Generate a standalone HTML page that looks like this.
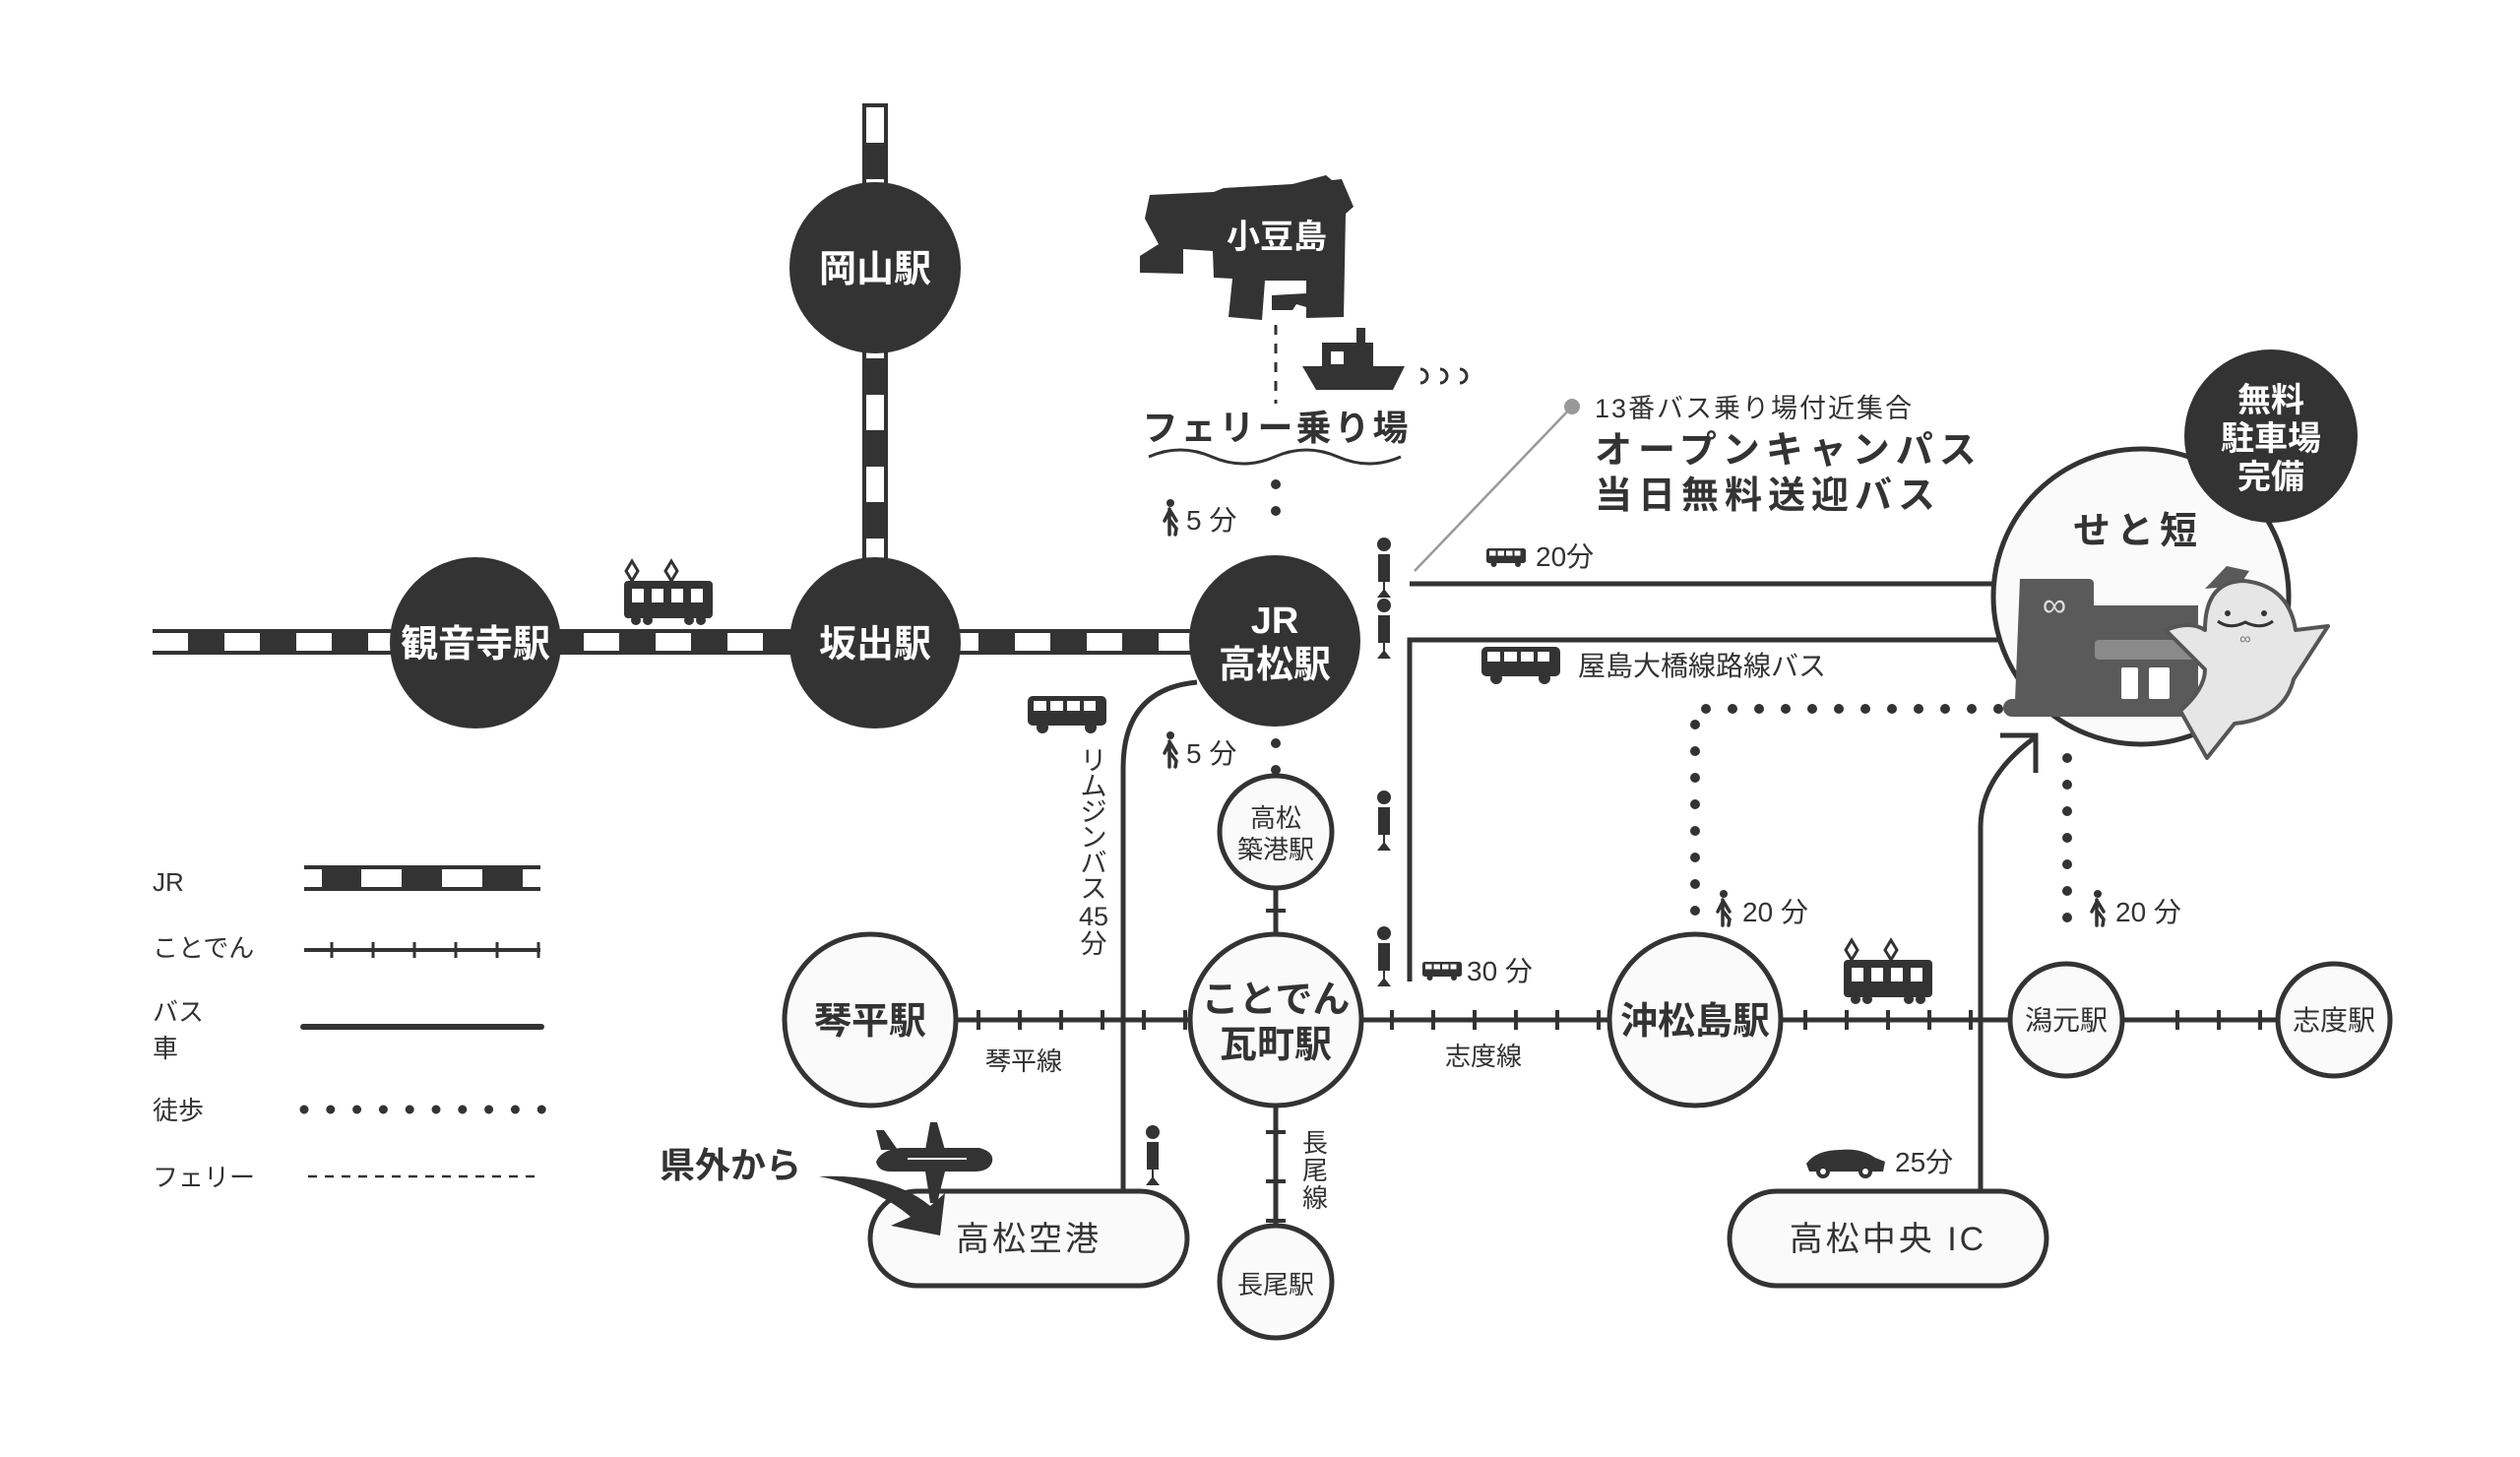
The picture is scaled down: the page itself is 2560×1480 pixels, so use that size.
<!DOCTYPE html>
<html><head><meta charset="utf-8"><style>
html,body{margin:0;padding:0;background:#fff;}
svg{display:block;font-family:"Liberation Sans","Noto Sans CJK JP",sans-serif;}
</style></head><body>
<svg width="2560" height="1480" viewBox="0 0 2560 1480" xmlns="http://www.w3.org/2000/svg">
<defs>
<g id="bus"><rect x="0" y="0" width="80" height="30" rx="5" fill="#333"/><rect x="6" y="5" width="13" height="10" fill="#fff"/><rect x="23" y="5" width="13" height="10" fill="#fff"/><rect x="40" y="5" width="13" height="10" fill="#fff"/><rect x="57" y="5" width="12" height="10" fill="#fff"/><circle cx="15" cy="32" r="6" fill="#333"/><circle cx="64" cy="32" r="6" fill="#333"/></g>
<g id="walk" fill="#333" stroke="#333"><circle cx="6" cy="4" r="4" stroke="none"/><path d="M5 10 L5 36 M5 12 L0 22 M6 12 L12 22 M6 22 L12 30 L11 36" stroke-width="3.5" fill="none" stroke-linecap="round"/></g>
<g id="stop"><circle cx="0" cy="0" r="7" fill="#333"/><rect x="-6" y="10" width="12" height="28" fill="#333"/><line x1="0" y1="38" x2="0" y2="46" stroke="#333" stroke-width="2"/><path d="M-7 54 L0 45 L7 54 Z" fill="#333"/></g>
<g id="train"><path d="M8 0 L2 10 L8 20 L14 10 Z M48 0 L42 10 L48 20 L54 10 Z" fill="none" stroke="#333" stroke-width="3"/><rect x="0" y="20" width="90" height="38" rx="4" fill="#333"/><rect x="8" y="28" width="12" height="14" fill="#fff"/><rect x="28" y="28" width="12" height="14" fill="#fff"/><rect x="48" y="28" width="12" height="14" fill="#fff"/><rect x="68" y="28" width="12" height="14" fill="#fff"/><circle cx="12" cy="60" r="5" fill="#333"/><circle cx="24" cy="60" r="5" fill="#333"/><circle cx="66" cy="60" r="5" fill="#333"/><circle cx="78" cy="60" r="5" fill="#333"/></g>
</defs>

<!-- JR lines -->
<line x1="155" y1="652" x2="1295" y2="652" stroke="#333" stroke-width="26"/>
<line x1="155" y1="652" x2="1295" y2="652" stroke="#fff" stroke-width="18" stroke-dasharray="36 37"/>
<line x1="889" y1="105" x2="889" y2="652" stroke="#333" stroke-width="26"/>
<line x1="889" y1="105" x2="889" y2="652" stroke="#fff" stroke-width="18" stroke-dasharray="36 37" stroke-dashoffset="-4"/>

<!-- bus lines -->
<line x1="1432" y1="593" x2="2030" y2="593" stroke="#333" stroke-width="5"/>
<path d="M1432 997 L1432 650 L2045 650" stroke="#333" stroke-width="5" fill="none"/>
<path d="M1141 1210 L1141 780 Q1141 700 1216 693" stroke="#333" stroke-width="5" fill="none"/>
<path d="M2012 1210 L2012 840 Q2012 790 2066 750" stroke="#333" stroke-width="5" fill="none"/>
<path d="M2032 747 L2068 747 L2068 785" stroke="#333" stroke-width="5" fill="none"/>

<!-- walking dots -->
<g stroke="#333" stroke-width="10" stroke-linecap="round" stroke-dasharray="0 27" fill="none">
<line x1="1296" y1="492" x2="1296" y2="540"/>
<line x1="1296" y1="755" x2="1296" y2="790"/>
<path d="M2030 720 L1722 720 L1722 935"/>
<line x1="2100" y1="770" x2="2100" y2="945"/>
</g>

<!-- kotoden lines -->
<g stroke="#333" stroke-width="5">
<line x1="884" y1="1036" x2="2371" y2="1036"/>
<line x1="1296" y1="840" x2="1296" y2="1302"/>
</g>
<g stroke="#333" stroke-width="4">
<line x1="994" y1="1026" x2="994" y2="1046"/><line x1="1036" y1="1026" x2="1036" y2="1046"/><line x1="1078" y1="1026" x2="1078" y2="1046"/><line x1="1120" y1="1026" x2="1120" y2="1046"/><line x1="1162" y1="1026" x2="1162" y2="1046"/><line x1="1204" y1="1026" x2="1204" y2="1046"/>
<line x1="1414" y1="1026" x2="1414" y2="1046"/><line x1="1456" y1="1026" x2="1456" y2="1046"/><line x1="1498" y1="1026" x2="1498" y2="1046"/><line x1="1540" y1="1026" x2="1540" y2="1046"/><line x1="1582" y1="1026" x2="1582" y2="1046"/><line x1="1624" y1="1026" x2="1624" y2="1046"/>
<line x1="1834" y1="1026" x2="1834" y2="1046"/><line x1="1876" y1="1026" x2="1876" y2="1046"/><line x1="1918" y1="1026" x2="1918" y2="1046"/><line x1="1960" y1="1026" x2="1960" y2="1046"/><line x1="2002" y1="1026" x2="2002" y2="1046"/>
<line x1="2212" y1="1026" x2="2212" y2="1046"/><line x1="2254" y1="1026" x2="2254" y2="1046"/><line x1="2296" y1="1026" x2="2296" y2="1046"/>
<line x1="1286" y1="925" x2="1306" y2="925"/><line x1="1286" y1="1150" x2="1306" y2="1150"/><line x1="1286" y1="1200" x2="1306" y2="1200"/><line x1="1286" y1="1240" x2="1306" y2="1240"/>
</g>

<!-- dark stations -->
<g fill="#333">
<circle cx="889" cy="272" r="87"/>
<circle cx="483" cy="653" r="87"/>
<circle cx="889" cy="653" r="87"/>
<circle cx="1295" cy="651" r="87"/>
</g>
<g fill="#fff" font-weight="700" font-size="38" text-anchor="middle">
<text x="889" y="286">岡山駅</text>
<text x="483" y="667">観音寺駅</text>
<text x="889" y="667">坂出駅</text>
<text x="1295" y="643">JR</text>
<text x="1295" y="688">高松駅</text>
</g>

<!-- light stations -->
<g fill="#fafafa" stroke="#333" stroke-width="5">
<circle cx="884" cy="1036" r="87"/>
<circle cx="1296" cy="1036" r="87"/>
<circle cx="1722" cy="1036" r="87"/>
<circle cx="1296" cy="845" r="57"/>
<circle cx="1296" cy="1302" r="57"/>
<circle cx="2099" cy="1036" r="57"/>
<circle cx="2371" cy="1036" r="57"/>
<rect x="884" y="1210" width="322" height="96" rx="48"/>
<rect x="1757" y="1210" width="322" height="96" rx="48"/>
</g>
<g fill="#333" text-anchor="middle">
<text x="884" y="1050" font-size="38" font-weight="700">琴平駅</text>
<text x="1296" y="1028" font-size="38" font-weight="700">ことでん</text>
<text x="1296" y="1074" font-size="38" font-weight="700">瓦町駅</text>
<text x="1722" y="1050" font-size="38" font-weight="700">沖松島駅</text>
<text x="1296" y="840" font-size="26">高松</text>
<text x="1296" y="872" font-size="26">築港駅</text>
<text x="1296" y="1314" font-size="26">長尾駅</text>
<text x="2099" y="1046" font-size="28">潟元駅</text>
<text x="2371" y="1046" font-size="28">志度駅</text>
<text x="1045" y="1270" font-size="34" letter-spacing="3">高松空港</text>
<text x="1918" y="1270" font-size="34" letter-spacing="3">高松中央 IC</text>
<text x="1040" y="1087" font-size="26">琴平線</text>
<text x="1507" y="1082" font-size="26">志度線</text>
<text x="1336" y="1170" font-size="26">長</text>
<text x="1336" y="1198" font-size="26">尾</text>
<text x="1336" y="1226" font-size="26">線</text>
</g>

<!-- limousine text -->
<g fill="#333" font-size="27" text-anchor="middle">
<text x="1111" y="782">リ</text><text x="1111" y="808">ム</text><text x="1111" y="834">ジ</text><text x="1111" y="860">ン</text><text x="1111" y="886">バ</text><text x="1111" y="912">ス</text><text x="1111" y="940">45</text><text x="1111" y="968">分</text>
</g>

<!-- island -->
<polygon fill="#333" points="1365,322 1327,323 1327,312 1317,309 1313,315 1292,315 1292,300 1327,298 1327,285 1285,285 1282,325 1248,322 1252,283 1233,282 1232,255 1202,253 1202,278 1158,277 1158,260 1177,248 1163,222 1168,198 1233,195 1243,191 1313,187 1347,178 1353,183 1363,182 1375,210 1367,217"/>
<text x="1297" y="252" fill="#fff" font-size="34" font-weight="700" text-anchor="middle">小豆島</text>
<line x1="1296" y1="330" x2="1296" y2="410" stroke="#333" stroke-width="3" stroke-dasharray="10 9"/>
<!-- ship -->
<g fill="#333"><rect x="1378" y="333" width="9" height="16"/><rect x="1343" y="348" width="52" height="25"/><path d="M1323 372 L1427 372 L1415 396 L1337 396 Z"/></g>
<rect x="1352" y="357" width="13" height="13" fill="#fff"/>
<g fill="none" stroke="#333" stroke-width="3"><path d="M1443 375 A7 7 0 0 1 1443 389"/><path d="M1463 375 A7 7 0 0 1 1463 389"/><path d="M1483 375 A7 7 0 0 1 1483 389"/></g>
<text x="1297" y="447" fill="#333" font-size="36" font-weight="700" text-anchor="middle" letter-spacing="3">フェリー乗り場</text>
<path d="M1167 464 Q1199 450 1231 464 T1295 464 T1359 464 T1423 464" fill="none" stroke="#333" stroke-width="3"/>

<!-- trains -->
<use href="#train" x="634" y="570"/>
<use href="#train" x="1873" y="955"/>

<!-- buses -->
<use href="#bus" x="1044" y="707"/>
<use href="#bus" x="1505" y="657"/>
<g transform="translate(1510,557) scale(0.5)"><use href="#bus"/></g>
<g transform="translate(1445,977) scale(0.5)"><use href="#bus"/></g>

<!-- bus stops -->
<use href="#stop" x="1406" y="553"/>
<use href="#stop" x="1406" y="615"/>
<use href="#stop" x="1406" y="810"/>
<use href="#stop" x="1406" y="948"/>
<use href="#stop" x="1171" y="1150"/>

<!-- walk labels -->
<use href="#walk" x="1183" y="507"/>
<use href="#walk" x="1183" y="743"/>
<use href="#walk" x="1745" y="904"/>
<use href="#walk" x="2125" y="904"/>
<g fill="#333" font-size="28">
<text x="1205" y="538">5 分</text>
<text x="1205" y="775">5 分</text>
<text x="1770" y="936">20 分</text>
<text x="2149" y="936">20 分</text>
<text x="1560" y="575">20分</text>
<text x="1490" y="996">30 分</text>
<text x="1925" y="1190">25分</text>
<text x="1603" y="686">屋島大橋線路線バス</text>
<text x="1620" y="424" font-size="27" letter-spacing="2">13番バス乗り場付近集合</text>
</g>
<g fill="#333" font-size="38" font-weight="700" letter-spacing="6">
<text x="1620" y="470">オープンキャンパス</text>
<text x="1620" y="516">当日無料送迎バス</text>
</g>
<line x1="1437" y1="580" x2="1597" y2="413" stroke="#999" stroke-width="2.5"/>
<circle cx="1597" cy="413" r="8" fill="#999"/>

<!-- car -->
<g fill="#333"><path d="M1835 1182 Q1845 1168 1870 1168 Q1890 1166 1905 1176 L1915 1180 L1913 1190 L1838 1190 Z"/><circle cx="1852" cy="1190" r="7"/><circle cx="1895" cy="1190" r="7"/></g>
<circle cx="1852" cy="1190" r="3" fill="#fff"/><circle cx="1895" cy="1190" r="3" fill="#fff"/>

<!-- airport / from outside -->
<text x="670" y="1196" fill="#333" font-size="36" font-weight="700">県外から</text>
<path d="M832 1195 Q905 1192 945 1225 L960 1212 L955 1255 L905 1245 L925 1236 Q890 1206 832 1195 Z" fill="#333"/>
<g fill="#333">
<path d="M890 1180 Q895 1168 915 1166 L995 1166 Q1010 1170 1008 1180 Q1005 1190 990 1190 L905 1190 Q892 1190 890 1180 Z"/>
<path d="M895 1168 L890 1148 L898 1148 L912 1168 Z"/>
<path d="M940 1168 L945 1140 L952 1140 L960 1168 Z"/>
<path d="M940 1190 L945 1222 L952 1222 L960 1190 Z"/>
</g>
<g fill="#fff"><rect x="922" y="1176" width="60" height="2"/></g>

<!-- setan -->
<circle cx="2175" cy="606" r="150" fill="#fafafa" stroke="#333" stroke-width="5"/>
<circle cx="2307" cy="443" r="88" fill="#333"/>
<g fill="#fff" font-size="34" font-weight="700" text-anchor="middle">
<text x="2307" y="418">無料</text>
<text x="2307" y="457">駐車場</text>
<text x="2307" y="496">完備</text>
</g>
<text x="2172" y="552" fill="#333" font-size="38" font-weight="700" text-anchor="middle" letter-spacing="6">せと短</text>
<g>
<path d="M2052 588 L2122 588 Q2127 588 2127 593 L2127 615 L2233 615 L2233 712 L2047 712 Z" fill="#5a5a5a"/>
<rect x="2035" y="710" width="198" height="18" rx="9" fill="#5a5a5a"/>
<text x="2087" y="626" fill="#ddd" font-size="34" text-anchor="middle">∞</text>
<rect x="2128" y="650" width="102" height="20" rx="4" fill="#8a8a8a"/>
<rect x="2155" y="678" width="17" height="32" rx="2" fill="#fff"/><rect x="2183" y="678" width="21" height="32" rx="2" fill="#fff"/>
<path d="M2240 598 L2262 575 L2285 580 L2275 595 Z" fill="#5a5a5a"/>
<path d="M2200 640 Q2225 630 2240 640 Q2240 590 2280 590 Q2325 595 2332 640 L2365 636 L2330 690 Q2320 730 2270 735 L2242 770 L2215 722 Q2240 700 2240 680 Z" fill="#e6e6e6" stroke="#555" stroke-width="4" stroke-linejoin="round"/>
<circle cx="2263" cy="623" r="3" fill="#333"/><circle cx="2300" cy="623" r="3" fill="#333"/>
<path d="M2253 631 Q2265 640 2281 632 Q2297 640 2309 631" fill="none" stroke="#333" stroke-width="3"/>
<text x="2281" y="654" fill="#777" font-size="16" text-anchor="middle">∞</text>
</g>

<!-- legend -->
<g fill="#333" font-size="26">
<text x="155" y="905">JR</text>
<text x="155" y="972">ことでん</text>
<text x="155" y="1037">バス</text>
<text x="155" y="1074">車</text>
<text x="155" y="1137">徒歩</text>
<text x="155" y="1205">フェリー</text>
</g>
<rect x="309" y="879" width="240" height="26" fill="#333"/>
<g fill="#fff">
<rect x="309" y="883" width="18" height="18"/>
<rect x="367" y="883" width="41" height="18"/>
<rect x="449" y="883" width="41" height="18"/>
<rect x="531" y="883" width="18" height="18"/>
</g>
<line x1="309" y1="965" x2="549" y2="965" stroke="#333" stroke-width="4"/>
<g stroke="#333" stroke-width="3"><line x1="337" y1="957" x2="337" y2="973"/><line x1="379" y1="957" x2="379" y2="973"/><line x1="421" y1="957" x2="421" y2="973"/><line x1="463" y1="957" x2="463" y2="973"/><line x1="505" y1="957" x2="505" y2="973"/><line x1="547" y1="957" x2="547" y2="973"/></g>
<line x1="308" y1="1043" x2="550" y2="1043" stroke="#333" stroke-width="6" stroke-linecap="round"/>
<line x1="309" y1="1127" x2="552" y2="1127" stroke="#333" stroke-width="9" stroke-linecap="round" stroke-dasharray="0 26.8"/>
<line x1="313" y1="1195" x2="551" y2="1195" stroke="#333" stroke-width="2.5" stroke-dasharray="9 8"/>
</svg>
</body></html>
